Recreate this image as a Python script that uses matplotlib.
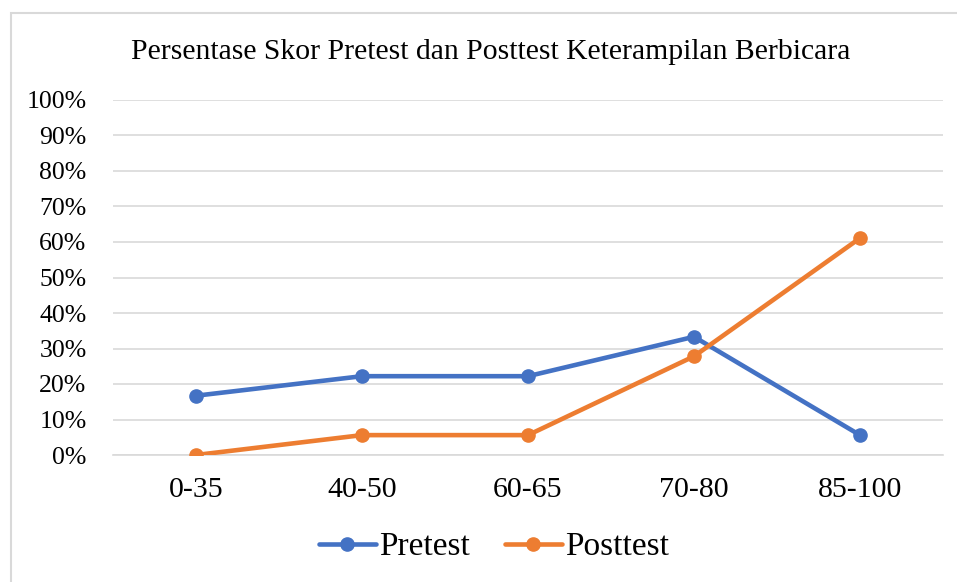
import matplotlib
matplotlib.use("Agg")
import matplotlib.pyplot as plt
from matplotlib.patches import Rectangle

categories = ["0-35", "40-50", "60-65", "70-80", "85-100"]
pretest = [16.7, 22.2, 22.2, 33.3, 5.6]
posttest = [0.0, 5.6, 5.6, 27.8, 61.1]
yticks = [0, 10, 20, 30, 40, 50, 60, 70, 80, 90, 100]

plt.rcParams['font.family'] = ['Liberation Serif', 'DejaVu Serif']

fig = plt.figure(figsize=(9.57, 5.82), dpi=100)
fig.patches.append(Rectangle((11/957, -0.1), 1.2, 1 - 13/582 + 0.1, transform=fig.transFigure,
                             fill=False, edgecolor='#d9d9d9', linewidth=1.5))
ax = fig.add_axes([113/957, 1 - 455/582, (943-113)/957, (455-100)/582])

x = list(range(len(categories)))
ax.plot(x, pretest, color='#4472C4', linewidth=3.3, marker='o', markersize=9.5, label='Pretest',
        solid_capstyle='round', zorder=3)
ax.plot(x, posttest, color='#ED7D31', linewidth=3.3, marker='o', markersize=9.5, label='Posttest',
        solid_capstyle='round', zorder=3)

ax.set_xlim(-0.5, 4.5)
ax.set_ylim(0, 100)
ax.set_yticks(yticks)
ax.set_yticklabels([f"{v}%" for v in yticks])
ax.set_xticks(x)
ax.set_xticklabels(categories)
ax.grid(axis='y', color='#d9d9d9', linewidth=1.2, zorder=0)
for s in ['top', 'right', 'left']:
    ax.spines[s].set_visible(False)
ax.spines['bottom'].set_color('#d9d9d9')
ax.spines['bottom'].set_linewidth(1.2)
ax.tick_params(axis='both', length=0, colors='black')
ax.tick_params(axis='y', pad=19, labelsize=18.5)
ax.tick_params(axis='x', pad=16, labelsize=21.5)

fig.text(491/957, 1 - 52/582, "Persentase Skor Pretest dan Posttest Keterampilan Berbicara",
         ha='center', va='center', fontsize=21.3)

fig.legend(loc='center', bbox_to_anchor=(494/957, 1 - 547/582), ncol=2, frameon=False,
           fontsize=24, handlelength=1.7, columnspacing=1.05, handletextpad=0.1)

fig.savefig("out.png", dpi=100)
